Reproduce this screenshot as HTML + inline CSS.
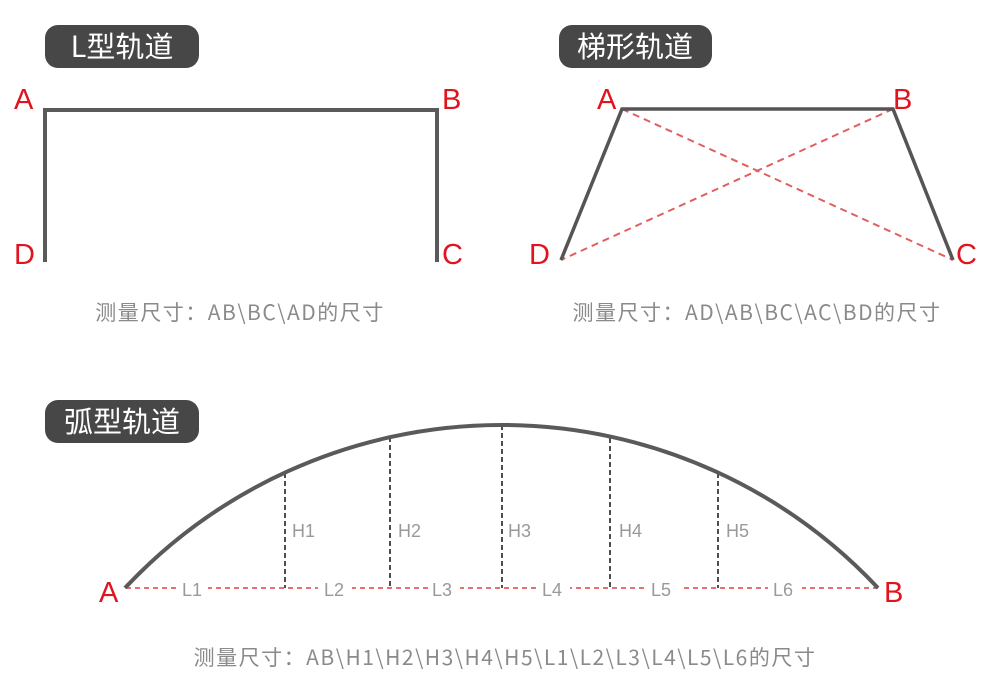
<!DOCTYPE html>
<html><head><meta charset="utf-8"><style>
html,body{margin:0;padding:0;background:#fff;}
svg{display:block;}
text{font-family:"Liberation Sans","Noto Sans CJK SC",sans-serif;}
.cj{font-family:"Noto Sans CJK SC","Liberation Sans",sans-serif;}
.cap{letter-spacing:1.5px;}
</style></head><body>
<svg width="983" height="682" viewBox="0 0 983 682" xmlns="http://www.w3.org/2000/svg">
<rect width="983" height="682" fill="#fff"/>
<rect x="45" y="25" width="154" height="43" rx="13" fill="#474747"/>
<text x="122" y="57" class="cj" font-size="29" fill="#fff" text-anchor="middle">L型轨道</text>
<rect x="559" y="25" width="153" height="43" rx="13" fill="#474747"/>
<text x="635" y="57" class="cj" font-size="29" fill="#fff" text-anchor="middle">梯形轨道</text>
<rect x="45" y="400" width="154" height="43" rx="13" fill="#474747"/>
<text x="122" y="432" class="cj" font-size="29" fill="#fff" text-anchor="middle">弧型轨道</text>

<path d="M45 262 V110 H437 V262" fill="none" stroke="#5a5a5a" stroke-width="4"/>
<g fill="#e0141e" font-size="29">
<text x="14" y="109">A</text><text x="442" y="109">B</text>
<text x="14" y="264">D</text><text x="442" y="264">C</text>
</g>
<text x="240" y="320" class="cj cap" font-size="21" fill="#8a8a8a" text-anchor="middle">测量尺寸：AB\BC\AD的尺寸</text>

<line x1="622" y1="109" x2="953" y2="260" stroke="#e06060" stroke-width="2" stroke-dasharray="7,5"/>
<line x1="893" y1="109" x2="561" y2="260" stroke="#e06060" stroke-width="2" stroke-dasharray="7,5"/>
<path d="M561 260 L622 109 H893 L953 260" fill="none" stroke="#555" stroke-width="3.5"/>
<g fill="#e0141e" font-size="29">
<text x="597" y="109">A</text><text x="893" y="109">B</text>
<text x="529" y="264">D</text><text x="956" y="264">C</text>
</g>
<text x="757" y="320" class="cj cap" font-size="21" fill="#8a8a8a" text-anchor="middle">测量尺寸：AD\AB\BC\AC\BD的尺寸</text>

<line x1="126" y1="588" x2="878" y2="588" stroke="#e04040" stroke-width="1.6" stroke-dasharray="5,4"/>
<g stroke="#222" stroke-width="1.6" stroke-dasharray="5,3">
<line x1="285" y1="473" x2="285" y2="588"/>
<line x1="390" y1="437" x2="390" y2="588"/>
<line x1="502" y1="425" x2="502" y2="588"/>
<line x1="610" y1="438" x2="610" y2="588"/>
<line x1="718" y1="473" x2="718" y2="588"/>
</g>
<path d="M125 588 A516.3 516.3 0 0 1 878 588" fill="none" stroke="#5a5a5a" stroke-width="4"/>
<g fill="#999" font-size="18">
<rect x="178" y="578" width="30" height="20" fill="#fff"/>
<rect x="318" y="578" width="34" height="20" fill="#fff"/>
<rect x="428" y="578" width="32" height="20" fill="#fff"/>
<rect x="536" y="578" width="34" height="20" fill="#fff"/>
<rect x="646" y="578" width="34" height="20" fill="#fff"/>
<rect x="768" y="578" width="34" height="20" fill="#fff"/>
<text x="182" y="596">L1</text><text x="324" y="596">L2</text><text x="432" y="596">L3</text>
<text x="542" y="596">L4</text><text x="651" y="596">L5</text><text x="773" y="596">L6</text>
<text x="292" y="537">H1</text><text x="398" y="537">H2</text><text x="508" y="537">H3</text>
<text x="619" y="537">H4</text><text x="726" y="537">H5</text>
</g>
<g fill="#e0141e" font-size="29">
<text x="99" y="602">A</text><text x="884" y="602">B</text>
</g>
<text x="505" y="665" class="cj cap" font-size="21" fill="#8a8a8a" text-anchor="middle">测量尺寸：AB\H1\H2\H3\H4\H5\L1\L2\L3\L4\L5\L6的尺寸</text>
</svg>
</body></html>
